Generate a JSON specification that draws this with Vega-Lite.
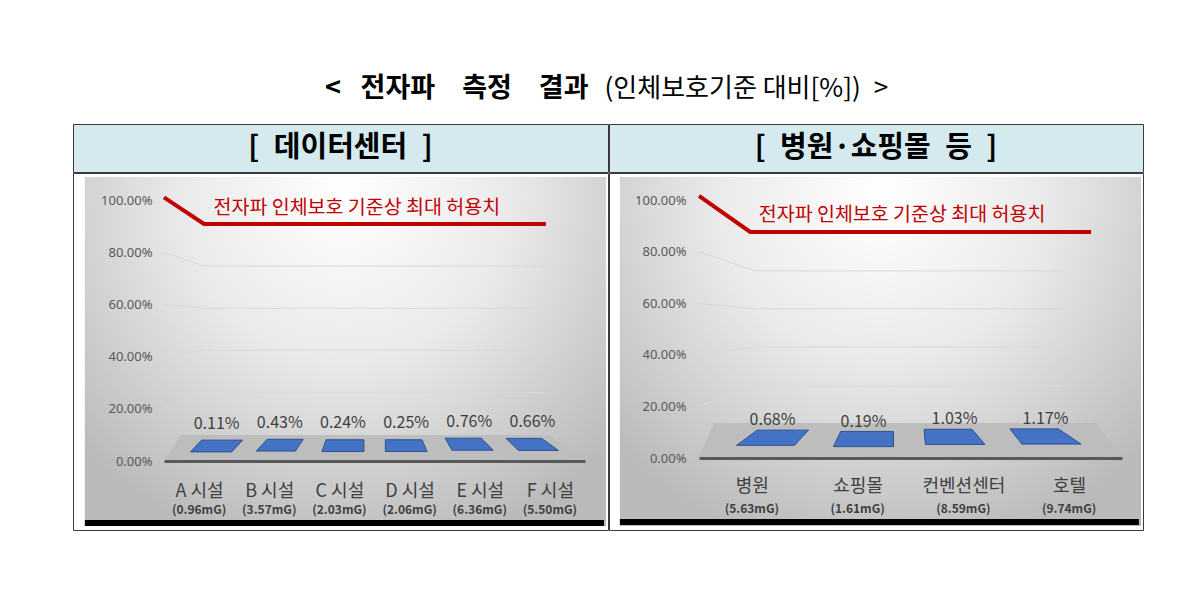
{
  "$schema": "https://vega.github.io/schema/vega-lite/v6.json",
  "padding": {"left": 72, "top": 69, "right": 58, "bottom": 82},
  "background": "white",
  "config": {
    "font": "Noto Sans CJK KR",
    "view": {"stroke": null},
    "concat": {"spacing": 0}
  },
  "datasets": {
    "dc": [
      {"cat": "A 시설", "mg": "(0.96mG)", "pct": 0.0011},
      {"cat": "B 시설", "mg": "(3.57mG)", "pct": 0.0043},
      {"cat": "C 시설", "mg": "(2.03mG)", "pct": 0.0024},
      {"cat": "D 시설", "mg": "(2.06mG)", "pct": 0.0025},
      {"cat": "E 시설", "mg": "(6.36mG)", "pct": 0.0076},
      {"cat": "F 시설", "mg": "(5.50mG)", "pct": 0.0066}
    ],
    "mall": [
      {"cat": "병원", "mg": "(5.63mG)", "pct": 0.0068},
      {"cat": "쇼핑몰", "mg": "(1.61mG)", "pct": 0.0019},
      {"cat": "컨벤션센터", "mg": "(8.59mG)", "pct": 0.0103},
      {"cat": "호텔", "mg": "(9.74mG)", "pct": 0.0117}
    ],
    "limitL": [{"t": 0, "v": 1.01}, {"t": 0.095, "v": 0.908}, {"t": 0.907, "v": 0.908}],
    "limitR": [{"t": 0, "v": 1.016}, {"t": 0.121, "v": 0.876}, {"t": 0.927, "v": 0.876}],
    "gridL": [
      {"g": "20", "t": 0, "v": 0.2}, {"g": "20", "t": 0.095, "v": 0.262}, {"g": "20", "t": 0.903, "v": 0.262},
      {"g": "40", "t": 0, "v": 0.4}, {"g": "40", "t": 0.095, "v": 0.425}, {"g": "40", "t": 0.903, "v": 0.425},
      {"g": "60", "t": 0, "v": 0.6}, {"g": "60", "t": 0.095, "v": 0.585}, {"g": "60", "t": 0.903, "v": 0.585},
      {"g": "80", "t": 0, "v": 0.8}, {"g": "80", "t": 0.095, "v": 0.747}, {"g": "80", "t": 0.903, "v": 0.747}
    ],
    "gridR": [
      {"g": "20", "t": 0, "v": 0.2}, {"g": "20", "t": 0.132, "v": 0.279}, {"g": "20", "t": 0.863, "v": 0.279},
      {"g": "40", "t": 0, "v": 0.4}, {"g": "40", "t": 0.132, "v": 0.43}, {"g": "40", "t": 0.863, "v": 0.43},
      {"g": "60", "t": 0, "v": 0.6}, {"g": "60", "t": 0.132, "v": 0.578}, {"g": "60", "t": 0.863, "v": 0.578},
      {"g": "80", "t": 0, "v": 0.8}, {"g": "80", "t": 0.132, "v": 0.725}, {"g": "80", "t": 0.863, "v": 0.725}
    ],
    "floorL": [{"t": 0, "lo": 0, "hi": 0}, {"t": 0.04, "lo": 0, "hi": 0.1}, {"t": 0.912, "lo": 0, "hi": 0.1}, {"t": 1, "lo": 0, "hi": 0}],
    "floorR": [{"t": 0, "lo": 0, "hi": 0}, {"t": 0.035, "lo": 0, "hi": 0.136}, {"t": 0.94, "lo": 0, "hi": 0.136}, {"t": 1, "lo": 0, "hi": 0}]
  },
  "spacing": 14,
  "vconcat": [
    {
      "width": 1069,
      "height": 40,
      "data": {"values": [{}]},
      "layer": [
        {"mark": {"type": "text", "text": "<\u2002 전자파\u3000측정\u3000결과", "align": "right", "baseline": "middle", "dx": -19, "fontSize": 27, "fontWeight": "bold", "color": "#000000"}},
        {"mark": {"type": "text", "text": "(인체보호기준 대비[%])\u2002>", "align": "left", "baseline": "middle", "dx": -3, "fontSize": 26, "color": "#000000"}}
      ]
    },
    {
      "spacing": -1,
      "hconcat": [
        {
          "spacing": -1,
          "vconcat": [
            {
              "width": 535,
              "height": 48,
              "view": {"fill": "#d4eaef", "stroke": "#3a3a3a"},
              "data": {"values": [{}]},
              "mark": {"type": "text", "text": "[\u2002데이터센터\u2002]", "fontSize": 29, "fontWeight": "bold", "color": "#000000", "baseline": "middle"}
            },
            {
              "width": 535,
              "height": 357,
              "view": {"fill": "#ffffff", "stroke": "#3a3a3a"},
              "resolve": {"scale": {"x": "independent", "shape": "independent"}, "axis": {"y": "independent"}},
              "layer": [
                {
                  "data": {"values": [{}]},
                  "mark": {"type": "rect", "fill": {"gradient": "radial", "x1": 0.5, "y1": 0.2, "r1": 0, "x2": 0.5, "y2": 0.2, "r2": 0.7, "stops": [{"offset": 0, "color": "#ffffff"}, {"offset": 0.45, "color": "#eaeaea"}, {"offset": 1, "color": "#bababa"}]}},
                  "encoding": {
                    "x": {"datum": -0.188, "type": "quantitative", "scale": {"domain": [0, 1], "range": [91, 512], "zero": false, "nice": false}, "axis": null},
                    "x2": {"datum": 1.05},
                    "y": {"datum": 1.088, "type": "quantitative", "scale": {"domain": [0, 1], "range": [288, 27], "zero": false, "nice": false}, "axis": null},
                    "y2": {"datum": -0.249}
                  }
                },
                {
                  "data": {"name": "gridL"},
                  "mark": {"type": "line", "color": "#d9d9d9", "strokeWidth": 1},
                  "encoding": {
                    "x": {"field": "t", "type": "quantitative", "scale": {"domain": [0, 1], "range": [91, 512], "zero": false, "nice": false}, "axis": null},
                    "y": {"field": "v", "type": "quantitative", "scale": {"domain": [0, 1], "range": [288, 27], "zero": false, "nice": false}, "axis": null},
                    "detail": {"field": "g", "type": "nominal"}
                  }
                },
                {
                  "data": {"name": "floorL"},
                  "mark": {"type": "area", "color": "#bdbdbd", "opacity": 1},
                  "encoding": {
                    "x": {"field": "t", "type": "quantitative", "scale": {"domain": [0, 1], "range": [91, 512], "zero": false, "nice": false}, "axis": null},
                    "y": {"field": "lo", "type": "quantitative", "scale": {"domain": [0, 1], "range": [288, 27], "zero": false, "nice": false}, "axis": null},
                    "y2": {"field": "hi"}
                  }
                },
                {
                  "data": {"values": [{}]},
                  "mark": {"type": "rule", "color": "#000000", "strokeWidth": 6},
                  "encoding": {
                    "x": {"datum": -0.188, "type": "quantitative", "scale": {"domain": [0, 1], "range": [91, 512], "zero": false, "nice": false}, "axis": null},
                    "x2": {"datum": 1.045},
                    "y": {"datum": -0.2375, "type": "quantitative", "scale": {"domain": [0, 1], "range": [288, 27], "zero": false, "nice": false}, "axis": null}
                  }
                },
                {
                  "data": {"name": "limitL"},
                  "mark": {"type": "line", "color": "#c00000", "strokeWidth": 4},
                  "encoding": {
                    "x": {"field": "t", "type": "quantitative", "scale": {"domain": [0, 1], "range": [91, 512], "zero": false, "nice": false}, "axis": null},
                    "y": {"field": "v", "type": "quantitative", "scale": {"domain": [0, 1], "range": [288, 27], "zero": false, "nice": false}, "axis": null}
                  }
                },
                {
                  "data": {"values": [{}]},
                  "mark": {"type": "text", "text": "전자파 인체보호 기준상 최대 허용치", "color": "#c00000", "fontSize": 19.5, "baseline": "middle"},
                  "encoding": {
                    "x": {"datum": 0.458, "type": "quantitative", "scale": {"domain": [0, 1], "range": [91, 512], "zero": false, "nice": false}, "axis": null},
                    "y": {"datum": 0.969, "type": "quantitative", "scale": {"domain": [0, 1], "range": [288, 27], "zero": false, "nice": false}, "axis": null}
                  }
                },
                {
                  "data": {"name": "dc"},
                  "mark": {"type": "point", "filled": true, "size": 3136, "yOffset": -14.7, "color": "#4472c4", "stroke": "#2f528f", "strokeWidth": 1, "opacity": 1},
                  "encoding": {
                    "x": {"field": "cat", "type": "nominal", "sort": null, "scale": {"range": [112, 491], "paddingInner": 0, "paddingOuter": 0}, "axis": null},
                    "y": {"field": "pct", "type": "quantitative", "scale": {"domain": [0, 1], "range": [288, 27], "zero": false, "nice": false},
                      "axis": {"orient": "left", "offset": -85, "values": [0, 0.2, 0.4, 0.6, 0.8, 1], "format": ".2%", "domain": false, "ticks": false, "tickSize": 0, "labelPadding": 6, "labelFontSize": 13, "labelColor": "#595959", "labelFont": "Noto Sans", "title": null, "grid": false, "zindex": 1}},
                    "shape": {"field": "cat", "type": "nominal", "sort": null, "legend": null, "scale": {
                      "domain": ["A 시설", "B 시설", "C 시설", "D 시설", "E 시설", "F 시설"],
                      "range": [
                        "M-0.54,-0.21L0.93,-0.21L0.54,0.21L-0.93,0.21Z",
                        "M-0.45,-0.21L0.84,-0.21L0.56,0.21L-0.84,0.21Z",
                        "M-0.6,-0.21L0.75,-0.21L0.75,0.21L-0.75,0.21Z",
                        "M-0.74,-0.21L0.57,-0.21L0.75,0.21L-0.74,0.21Z",
                        "M-0.86,-0.22L0.43,-0.22L0.85,0.21L-0.62,0.21Z",
                        "M-0.94,-0.22L0.33,-0.22L0.93,0.21L-0.5,0.21Z"
                      ]}}
                  }
                },
                {
                  "data": {"name": "dc"},
                  "mark": {"type": "text", "dy": -37, "fontSize": 16, "color": "#404040", "baseline": "middle"},
                  "encoding": {
                    "x": {"field": "cat", "type": "nominal", "sort": null, "scale": {"range": [112, 491], "paddingInner": 0, "paddingOuter": 0}, "axis": null},
                    "y": {"field": "pct", "type": "quantitative", "scale": {"domain": [0, 1], "range": [288, 27], "zero": false, "nice": false}, "axis": null},
                    "text": {"field": "pct", "format": ".2%"}
                  }
                },
                {
                  "data": {"name": "dc"},
                  "mark": {"type": "text", "fontSize": 12, "fontWeight": "bold", "color": "#404040", "baseline": "middle"},
                  "encoding": {
                    "x": {"field": "cat", "type": "nominal", "sort": null, "scale": {"range": [91, 512], "paddingInner": 0, "paddingOuter": 0},
                      "axis": {"orient": "bottom", "offset": -69, "domainColor": "#595959", "domainWidth": 3, "ticks": false, "tickSize": 0, "labelPadding": 21, "labelFontSize": 18, "labelColor": "#404040", "labelFont": "Noto Sans CJK KR", "labelAngle": 0, "title": null, "grid": false, "zindex": 1}},
                    "y": {"datum": -0.186, "type": "quantitative", "scale": {"domain": [0, 1], "range": [288, 27], "zero": false, "nice": false}, "axis": null},
                    "text": {"field": "mg"}
                  }
                }
              ]
            }
          ]
        },
        {
          "spacing": -1,
          "vconcat": [
            {
              "width": 534,
              "height": 48,
              "view": {"fill": "#d4eaef", "stroke": "#3a3a3a"},
              "data": {"values": [{}]},
              "mark": {"type": "text", "text": "[\u2002병원·쇼핑몰\u2002등\u2002]", "fontSize": 29, "fontWeight": "bold", "color": "#000000", "baseline": "middle"}
            },
            {
              "width": 534,
              "height": 357,
              "view": {"fill": "#ffffff", "stroke": "#3a3a3a"},
              "resolve": {"scale": {"x": "independent", "shape": "independent"}, "axis": {"y": "independent"}},
              "layer": [
                {
                  "data": {"values": [{}]},
                  "mark": {"type": "rect", "fill": {"gradient": "radial", "x1": 0.5, "y1": 0.2, "r1": 0, "x2": 0.5, "y2": 0.2, "r2": 0.7, "stops": [{"offset": 0, "color": "#ffffff"}, {"offset": 0.45, "color": "#eaeaea"}, {"offset": 1, "color": "#bababa"}]}},
                  "encoding": {
                    "x": {"datum": -0.187, "type": "quantitative", "scale": {"domain": [0, 1], "range": [90, 513], "zero": false, "nice": false}, "axis": null},
                    "x2": {"datum": 1.045},
                    "y": {"datum": 1.089, "type": "quantitative", "scale": {"domain": [0, 1], "range": [285, 27], "zero": false, "nice": false}, "axis": null},
                    "y2": {"datum": -0.264}
                  }
                },
                {
                  "data": {"name": "gridR"},
                  "mark": {"type": "line", "color": "#d9d9d9", "strokeWidth": 1},
                  "encoding": {
                    "x": {"field": "t", "type": "quantitative", "scale": {"domain": [0, 1], "range": [90, 513], "zero": false, "nice": false}, "axis": null},
                    "y": {"field": "v", "type": "quantitative", "scale": {"domain": [0, 1], "range": [285, 27], "zero": false, "nice": false}, "axis": null},
                    "detail": {"field": "g", "type": "nominal"}
                  }
                },
                {
                  "data": {"name": "floorR"},
                  "mark": {"type": "area", "color": "#bdbdbd", "opacity": 1},
                  "encoding": {
                    "x": {"field": "t", "type": "quantitative", "scale": {"domain": [0, 1], "range": [90, 513], "zero": false, "nice": false}, "axis": null},
                    "y": {"field": "lo", "type": "quantitative", "scale": {"domain": [0, 1], "range": [285, 27], "zero": false, "nice": false}, "axis": null},
                    "y2": {"field": "hi"}
                  }
                },
                {
                  "data": {"values": [{}]},
                  "mark": {"type": "rule", "color": "#000000", "strokeWidth": 6},
                  "encoding": {
                    "x": {"datum": -0.187, "type": "quantitative", "scale": {"domain": [0, 1], "range": [90, 513], "zero": false, "nice": false}, "axis": null},
                    "x2": {"datum": 1.04},
                    "y": {"datum": -0.248, "type": "quantitative", "scale": {"domain": [0, 1], "range": [285, 27], "zero": false, "nice": false}, "axis": null}
                  }
                },
                {
                  "data": {"name": "limitR"},
                  "mark": {"type": "line", "color": "#c00000", "strokeWidth": 4},
                  "encoding": {
                    "x": {"field": "t", "type": "quantitative", "scale": {"domain": [0, 1], "range": [90, 513], "zero": false, "nice": false}, "axis": null},
                    "y": {"field": "v", "type": "quantitative", "scale": {"domain": [0, 1], "range": [285, 27], "zero": false, "nice": false}, "axis": null}
                  }
                },
                {
                  "data": {"values": [{}]},
                  "mark": {"type": "text", "text": "전자파 인체보호 기준상 최대 허용치", "color": "#c00000", "fontSize": 19.5, "baseline": "middle"},
                  "encoding": {
                    "x": {"datum": 0.48, "type": "quantitative", "scale": {"domain": [0, 1], "range": [90, 513], "zero": false, "nice": false}, "axis": null},
                    "y": {"datum": 0.942, "type": "quantitative", "scale": {"domain": [0, 1], "range": [285, 27], "zero": false, "nice": false}, "axis": null}
                  }
                },
                {
                  "data": {"name": "mall"},
                  "mark": {"type": "point", "filled": true, "size": 6400, "yOffset": -18.5, "color": "#4472c4", "stroke": "#2f528f", "strokeWidth": 1, "opacity": 1},
                  "encoding": {
                    "x": {"field": "cat", "type": "nominal", "sort": null, "scale": {"range": [118, 482], "paddingInner": 0, "paddingOuter": 0}, "axis": null},
                    "y": {"field": "pct", "type": "quantitative", "scale": {"domain": [0, 1], "range": [285, 27], "zero": false, "nice": false},
                      "axis": {"orient": "left", "offset": -83, "values": [0, 0.2, 0.4, 0.6, 0.8, 1], "format": ".2%", "domain": false, "ticks": false, "tickSize": 0, "labelPadding": 6, "labelFontSize": 13, "labelColor": "#595959", "labelFont": "Noto Sans", "title": null, "grid": false, "zindex": 1}},
                    "shape": {"field": "cat", "type": "nominal", "sort": null, "legend": null, "scale": {
                      "domain": ["병원", "쇼핑몰", "컨벤션센터", "호텔"],
                      "range": [
                        "M-0.38,-0.19L0.9,-0.19L0.55,0.19L-0.9,0.19Z",
                        "M-0.57,-0.19L0.75,-0.19L0.75,0.19L-0.75,0.19Z",
                        "M-0.76,-0.19L0.44,-0.19L0.76,0.19L-0.73,0.19Z",
                        "M-0.89,-0.19L0.32,-0.19L0.89,0.19L-0.59,0.19Z"
                      ]}}
                  }
                },
                {
                  "data": {"name": "mall"},
                  "mark": {"type": "text", "dy": -36, "fontSize": 16, "color": "#404040", "baseline": "middle"},
                  "encoding": {
                    "x": {"field": "cat", "type": "nominal", "sort": null, "scale": {"range": [118, 482], "paddingInner": 0, "paddingOuter": 0}, "axis": null},
                    "y": {"field": "pct", "type": "quantitative", "scale": {"domain": [0, 1], "range": [285, 27], "zero": false, "nice": false}, "axis": null},
                    "text": {"field": "pct", "format": ".2%"}
                  }
                },
                {
                  "data": {"name": "mall"},
                  "mark": {"type": "text", "fontSize": 12, "fontWeight": "bold", "color": "#404040", "baseline": "middle"},
                  "encoding": {
                    "x": {"field": "cat", "type": "nominal", "sort": null, "scale": {"range": [90, 513], "paddingInner": 0, "paddingOuter": 0},
                      "axis": {"orient": "bottom", "offset": -72, "domainColor": "#595959", "domainWidth": 3, "ticks": false, "tickSize": 0, "labelPadding": 19, "labelFontSize": 18, "labelColor": "#404040", "labelFont": "Noto Sans CJK KR", "labelAngle": 0, "title": null, "grid": false, "zindex": 1}},
                    "y": {"datum": -0.196, "type": "quantitative", "scale": {"domain": [0, 1], "range": [285, 27], "zero": false, "nice": false}, "axis": null},
                    "text": {"field": "mg"}
                  }
                }
              ]
            }
          ]
        }
      ]
    }
  ]
}
